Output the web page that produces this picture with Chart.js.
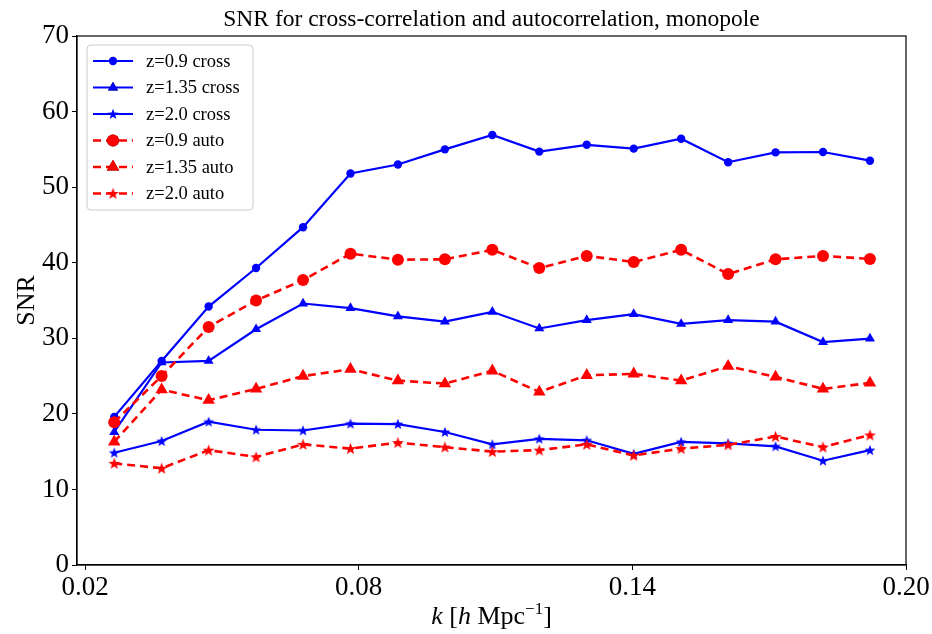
<!DOCTYPE html>
<html>
<head>
<meta charset="utf-8">
<script src="https://cdn.jsdelivr.net/npm/chart.js@4.4.1/dist/chart.umd.min.js"></script>
<style>
  html, body { margin: 0; padding: 0; background: #ffffff; }
  #wrap { width: 932px; height: 634px; position: relative; }
</style>
</head>
<body>
<div id="wrap"><canvas id="c" width="932" height="634"></canvas></div>
<script>
// ---- data ----
const kValues = [0.0264, 0.0368, 0.0471, 0.0575, 0.0678, 0.0782, 0.0886, 0.0989, 0.1093,
                 0.1196, 0.1300, 0.1403, 0.1507, 0.1610, 0.1714, 0.1818, 0.1921];
const cross09  = [19.6, 27.0, 34.2, 39.3, 44.7, 51.8, 53.0, 55.0, 56.9, 54.7, 55.6, 55.1, 56.4, 53.3, 54.6, 54.65, 53.5];
const cross135 = [17.6, 26.8, 27.0, 31.2, 34.6, 34.0, 32.9, 32.2, 33.5, 31.3, 32.4, 33.2, 31.9, 32.4, 32.2, 29.5, 29.95];
const cross20  = [14.86, 16.4, 18.96, 17.9, 17.8, 18.7, 18.65, 17.6, 15.96, 16.7, 16.5, 14.7, 16.3, 16.1, 15.7, 13.8, 15.2];
const auto09   = [18.9, 25.0, 31.5, 35.0, 37.7, 41.2, 40.4, 40.45, 41.7, 39.3, 40.9, 40.1, 41.7, 38.5, 40.45, 40.9, 40.5];
const auto135  = [16.3, 23.2, 21.8, 23.3, 25.0, 25.9, 24.4, 24.0, 25.7, 22.9, 25.1, 25.3, 24.4, 26.3, 24.9, 23.3, 24.1];
const auto20   = [13.45, 12.8, 15.2, 14.3, 15.96, 15.4, 16.2, 15.6, 15.0, 15.2, 15.96, 14.5, 15.4, 15.9, 17.0, 15.6, 17.2];
const seriesLabels = ['z=0.9 cross', 'z=1.35 cross', 'z=2.0 cross', 'z=0.9 auto', 'z=1.35 auto', 'z=2.0 auto'];
const xTickValues = [0.02, 0.08, 0.14, 0.20];
const yTickValues = [0, 10, 20, 30, 40, 50, 60, 70];
const titleText = 'SNR for cross-correlation and autocorrelation, monopole';
const yLabelText = 'SNR';

const SERIF = '"Liberation Serif", "DejaVu Serif", serif';
const BLUE = '#0000ff', RED = '#ff0000';

function makeStar(size, color) {
  const c = document.createElement('canvas');
  c.width = size; c.height = size;
  const g = c.getContext('2d');
  const cx = size / 2, cy = size / 2, ro = size / 2 - 0.3, ri = ro * 0.42;
  g.beginPath();
  for (let i = 0; i < 10; i++) {
    const r = i % 2 === 0 ? ro : ri;
    const a = -Math.PI / 2 + i * Math.PI / 5;
    const px = cx + r * Math.cos(a), py = cy + r * Math.sin(a) + size * 0.04;
    if (i === 0) g.moveTo(px, py); else g.lineTo(px, py);
  }
  g.closePath();
  g.fillStyle = color; g.fill();
  return c;
}
const starBlue = makeStar(12, BLUE);
const starRed = makeStar(13, RED);

function pts(arr) { return kValues.map((k, i) => ({ x: k, y: arr[i] })); }

const allSeries = [cross09, cross135, cross20, auto09, auto135, auto20];
const styles = [
  { color: BLUE, dash: [], width: 2.2, ps: 'circle', r: 4.2 },
  { color: BLUE, dash: [], width: 2.2, ps: 'triangle', r: 5.8 },
  { color: BLUE, dash: [], width: 2.2, ps: starBlue, r: 6 },
  { color: RED, dash: [8, 5], width: 2.6, ps: 'circle', r: 6 },
  { color: RED, dash: [8, 5], width: 2.6, ps: 'triangle', r: 7.2 },
  { color: RED, dash: [8, 5], width: 2.6, ps: starRed, r: 6.5 },
];

const datasets = allSeries.map((arr, i) => ({
  label: seriesLabels[i],
  data: pts(arr),
  borderColor: styles[i].color,
  backgroundColor: styles[i].color,
  borderWidth: styles[i].width,
  borderDash: styles[i].dash,
  pointStyle: styles[i].ps,
  pointRadius: styles[i].r,
  pointBorderWidth: 0,
  pointBackgroundColor: styles[i].color,
  pointBorderColor: styles[i].color,
  tension: 0,
  fill: false,
  order: allSeries.length - i,
}));

const decorPlugin = {
  id: 'decor',
  afterDraw(chart) {
    const ctx = chart.ctx, a = chart.chartArea;
    ctx.save();
    // frame
    ctx.strokeStyle = '#000'; ctx.lineWidth = 1.2;
    ctx.strokeRect(a.left, a.top, a.right - a.left, a.bottom - a.top);
    // title
    ctx.fillStyle = '#000';
    ctx.font = '23.5px ' + SERIF;
    ctx.textAlign = 'center'; ctx.textBaseline = 'alphabetic';
    ctx.fillText(titleText, (a.left + a.right) / 2, 26);
    // y label
    ctx.save();
    ctx.translate(34, (a.top + a.bottom) / 2);
    ctx.rotate(-Math.PI / 2);
    ctx.font = '26px ' + SERIF;
    ctx.textAlign = 'center';
    ctx.fillText(yLabelText, 0, 0);
    ctx.restore();
    // x label: k [h Mpc^-1]
    const parts = [
      { t: 'k', f: 'italic 26px ' + SERIF, dy: 0 },
      { t: ' [', f: '26px ' + SERIF, dy: 0 },
      { t: 'h', f: 'italic 26px ' + SERIF, dy: 0 },
      { t: ' Mpc', f: '26px ' + SERIF, dy: 0 },
      { t: '\u22121', f: '17px ' + SERIF, dy: -10 },
      { t: ']', f: '26px ' + SERIF, dy: 0 },
    ];
    let total = 0;
    parts.forEach(p => { ctx.font = p.f; p.w = ctx.measureText(p.t).width; total += p.w; });
    let x = (a.left + a.right) / 2 - total / 2;
    ctx.textAlign = 'left';
    parts.forEach(p => { ctx.font = p.f; ctx.fillText(p.t, x, 624 + p.dy); x += p.w; });
    // legend
    const lx = 87, ly = 45, lw = 166, lh = 165, rr = 4;
    ctx.beginPath();
    ctx.moveTo(lx + rr, ly);
    ctx.arcTo(lx + lw, ly, lx + lw, ly + lh, rr);
    ctx.arcTo(lx + lw, ly + lh, lx, ly + lh, rr);
    ctx.arcTo(lx, ly + lh, lx, ly, rr);
    ctx.arcTo(lx, ly, lx + lw, ly, rr);
    ctx.closePath();
    ctx.fillStyle = 'rgba(255,255,255,0.8)'; ctx.fill();
    ctx.strokeStyle = '#cccccc'; ctx.lineWidth = 1; ctx.stroke();
    const rows = [61, 87.5, 114, 140.5, 167, 193.5];
    chart.data.datasets.forEach((ds, i) => {
      const y = rows[i];
      ctx.save();
      ctx.strokeStyle = ds.borderColor; ctx.lineWidth = ds.borderWidth;
      ctx.setLineDash(ds.borderDash);
      ctx.beginPath(); ctx.moveTo(93, y); ctx.lineTo(133, y); ctx.stroke();
      ctx.restore();
      Chart.helpers.drawPoint(ctx, {
        pointStyle: ds.pointStyle, radius: ds.pointRadius, rotation: 0, borderWidth: 0
      }, 113, y);
      ctx.fillStyle = ds.borderColor;
      if (typeof ds.pointStyle === 'string') { ctx.fill(); }
      ctx.fillStyle = '#000';
      ctx.font = '18.5px ' + SERIF;
      ctx.textAlign = 'left'; ctx.textBaseline = 'middle';
      ctx.fillText(ds.label, 146, y + 1);
      ctx.textBaseline = 'alphabetic';
    });
    ctx.restore();
  }
};

new Chart(document.getElementById('c'), {
  type: 'line',
  data: { datasets },
  options: {
    responsive: false,
    animation: false,
    devicePixelRatio: 1,
    layout: { padding: { top: 36, right: 26, left: 0, bottom: 0 } },
    plugins: { legend: { display: false }, tooltip: { enabled: false }, title: { display: false } },
    scales: {
      x: {
        type: 'linear',
        min: 0.01824, max: 0.20,
        afterBuildTicks: s => { s.ticks = xTickValues.map(v => ({ value: v })); },
        afterFit: s => { s.height = 69; },
        ticks: {
          callback: v => v.toFixed(2), color: '#000', padding: 2, maxRotation: 0,
          autoSkip: false, font: { family: SERIF, size: 27 }
        },
        grid: { display: true, drawOnChartArea: false, drawTicks: true, tickLength: 5, color: '#000' },
        border: { display: true, color: '#000', width: 1.2 },
      },
      y: {
        type: 'linear',
        min: 0, max: 70,
        afterBuildTicks: s => { s.ticks = yTickValues.map(v => ({ value: v })); },
        afterFit: s => { s.width = 77; },
        ticks: {
          color: '#000', padding: 3, autoSkip: false,
          font: { family: SERIF, size: 27 }
        },
        grid: { display: true, drawOnChartArea: false, drawTicks: true, tickLength: 5, color: '#000' },
        border: { display: true, color: '#000', width: 1.2 },
      }
    }
  },
  plugins: [decorPlugin]
});
</script>
</body>
</html>
